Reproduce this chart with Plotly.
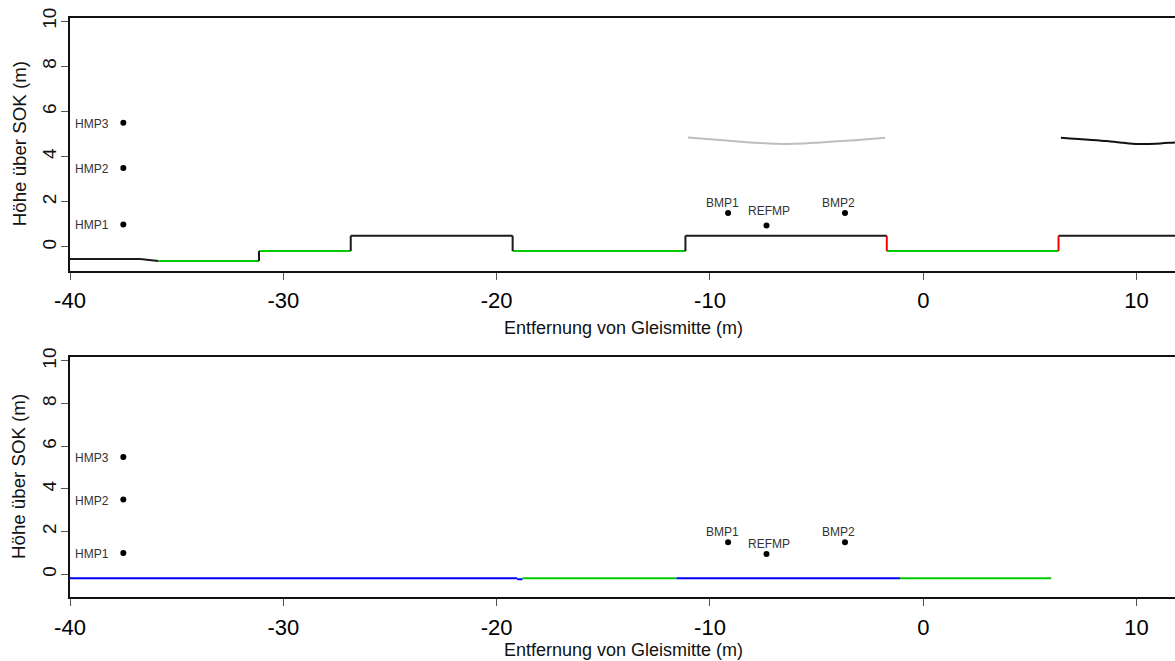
import plotly.graph_objects as go

# Measurement points (distance from track centre, height above top of rail)
hmp_names = ["HMP1", "HMP2", "HMP3"]
hmp_x = [-37.5, -37.5, -37.5]
hmp_y = [1.0, 3.5, 5.5]

bmp_names = ["BMP1", "REFMP", "BMP2"]
bmp_x = [-9.15, -7.35, -3.67]
bmp_y = [1.5, 0.95, 1.5]

# Upper cross-section: ground profile segments
top_seg_x0 = [-40.0, -36.72, -35.86, -31.14, -31.14, -26.84, -26.84, -19.25, -19.25, -11.15, -11.15, -1.71, -1.71, 6.34, 6.34]
top_seg_x1 = [-36.72, -35.86, -31.14, -31.14, -26.84, -26.84, -19.25, -19.25, -11.15, -11.15, -1.71, -1.71, 6.34, 6.34, 12.0]
top_seg_y0 = [-0.53, -0.53, -0.62, -0.62, -0.18, -0.18, 0.5, 0.5, -0.18, -0.18, 0.5, 0.5, -0.18, -0.18, 0.5]
top_seg_y1 = [-0.53, -0.62, -0.62, -0.18, -0.18, 0.5, 0.5, -0.18, -0.18, 0.5, 0.5, -0.18, -0.18, 0.5, 0.5]
top_seg_col = ["black", "black", "green", "black", "green", "black", "black", "black", "green", "black", "black", "red", "green", "red", "black"]

# Upper cross-section: overhead contact wires
wire1_x = [-11.03, -9.53, -8.12, -7.2, -6.43, -5.6, -4.84, -3.20, -1.79]
wire1_y = [4.85, 4.74, 4.63, 4.58, 4.56, 4.58, 4.63, 4.73, 4.84]
wire2_x = [6.45, 8.60, 9.4, 10.01, 10.9, 11.80, 12.5]
wire2_y = [4.84, 4.69, 4.61, 4.56, 4.57, 4.63, 4.67]

# Lower cross-section: ground profile segments
bot_seg_x0 = [-40.0, -19.04, -18.79, -11.57, -1.09]
bot_seg_x1 = [-19.04, -18.79, -11.57, -1.09, 6.0]
bot_seg_y = [-0.19, -0.23, -0.19, -0.19, -0.19]
bot_seg_col = ["blue", "blue", "green", "blue", "green"]

x_ticks = [-40, -30, -20, -10, 0, 10]
x_tick_labels = ["-40", "-30", "-20", "-10", "0", "10"]
y_ticks = [0, 2, 4, 6, 8, 10]
y_tick_labels = ["0", "2", "4", "6", "8", "10"]

COLORS = {"black": "#1a1a1a", "green": "#00CD00", "red": "#FF0000", "blue": "#0000FF"}
FONT = "Liberation Sans, Arial, sans-serif"
# horizontal nudge of the point labels above the markers
BMP_LABEL_XSHIFT = {"BMP1": -6, "REFMP": 3, "BMP2": -6}

W, H = 1175, 661
L = 70
fig = go.Figure()


def add_segments(x0s, x1s, y0s, y1s, cols, xa, ya):
    for name in ["green", "blue", "black", "red"]:
        xs, ys = [], []
        for a, b, c, d, col in zip(x0s, x1s, y0s, y1s, cols):
            if col == name:
                xs += [a, b, None]
                ys += [c, d, None]
        if xs:
            fig.add_trace(go.Scatter(x=xs, y=ys, mode="lines", xaxis=xa, yaxis=ya,
                                     line=dict(color=COLORS[name], width=2),
                                     hoverinfo="skip", showlegend=False))


add_segments(top_seg_x0, top_seg_x1, top_seg_y0, top_seg_y1, top_seg_col, "x", "y")
add_segments(bot_seg_x0, bot_seg_x1, bot_seg_y, bot_seg_y, bot_seg_col, "x2", "y2")

fig.add_trace(go.Scatter(x=wire1_x, y=wire1_y, mode="lines", xaxis="x", yaxis="y",
                         line=dict(color="#BEBEBE", width=2, shape="spline", smoothing=0.6),
                         showlegend=False))
fig.add_trace(go.Scatter(x=wire2_x, y=wire2_y, mode="lines", xaxis="x", yaxis="y",
                         line=dict(color="#111111", width=2, shape="spline", smoothing=0.6),
                         showlegend=False))

annotations = []
for xa, ya, ref_shift in [("x", "y", 15), ("x2", "y2", 10)]:
    fig.add_trace(go.Scatter(x=hmp_x + bmp_x, y=hmp_y + bmp_y, mode="markers",
                             xaxis=xa, yaxis=ya, marker=dict(color="black", size=6),
                             showlegend=False))
    for n, xv, yv in zip(hmp_names, hmp_x, hmp_y):
        annotations.append(dict(x=xv, y=yv, xref=xa, yref=ya, text=n, showarrow=False,
                                xanchor="right", yanchor="middle", xshift=-12, yshift=-1,
                                font=dict(family=FONT, size=12, color="#333333")))
    for n, xv, yv in zip(bmp_names, bmp_x, bmp_y):
        annotations.append(dict(x=xv, y=yv, xref=xa, yref=ya, text=n, showarrow=False,
                                xanchor="center", yanchor="middle",
                                xshift=BMP_LABEL_XSHIFT[n],
                                yshift=ref_shift if n == "REFMP" else 10,
                                font=dict(family=FONT, size=12, color="#333333")))

# Panel boxes in pixel terms
top_box = (17.7, 270.7)
bot_box = (357.3, 596.7)


def dom(box):
    return [1 - box[1] / H, 1 - box[0] / H]


for box, title_y in [(top_box, 328), (bot_box, 650)]:
    annotations.append(dict(x=(19 - L) / (W - L), y=1 - (box[0] + box[1]) / 2 / H,
                            xref="paper", yref="paper", text="Höhe über SOK (m)",
                            textangle=-90, showarrow=False, xanchor="center", yanchor="middle",
                            font=dict(family=FONT, size=18.7, color="#111111")))
    annotations.append(dict(x=(623 - L) / (W - L), y=1 - title_y / H,
                            xref="paper", yref="paper", text="Entfernung von Gleismitte (m)",
                            showarrow=False, xanchor="center", yanchor="middle",
                            font=dict(family=FONT, size=18, color="#111111")))

xaxis_common = dict(range=[-40, 11.8], tickvals=x_ticks, ticktext=x_tick_labels,
                    ticks="outside", ticklen=7,
                    tickcolor="#555555", tickwidth=1, showline=True, linecolor="#111111",
                    linewidth=2, mirror=True, showgrid=False, zeroline=False,
                    tickfont=dict(family=FONT, size=22, color="#000000"), automargin=False)
yaxis_common = dict(tickvals=y_ticks, ticktext=y_tick_labels, ticks="outside", ticklen=7,
                    tickcolor="#555555",
                    tickwidth=1, showline=True, linecolor="#111111", linewidth=2,
                    showgrid=False, zeroline=False, tickangle=-90, ticklabelstandoff=-3,
                    tickfont=dict(family=FONT, size=19, color="#111111"), automargin=False)

fig.update_layout(
    width=W, height=H,
    margin=dict(l=L, r=0, t=0, b=0),
    paper_bgcolor="white", plot_bgcolor="white",
    xaxis=dict(xaxis_common, anchor="y", ticklabelstandoff=2),
    yaxis=dict(yaxis_common, anchor="x", domain=dom(top_box), range=[-1.05, 10.15]),
    xaxis2=dict(xaxis_common, anchor="y2", ticklabelstandoff=3),
    yaxis2=dict(yaxis_common, anchor="x2", domain=dom(bot_box), range=[-1.05, 10.17]),
    annotations=annotations,
    showlegend=False,
)

fig.write_html("out.html")
